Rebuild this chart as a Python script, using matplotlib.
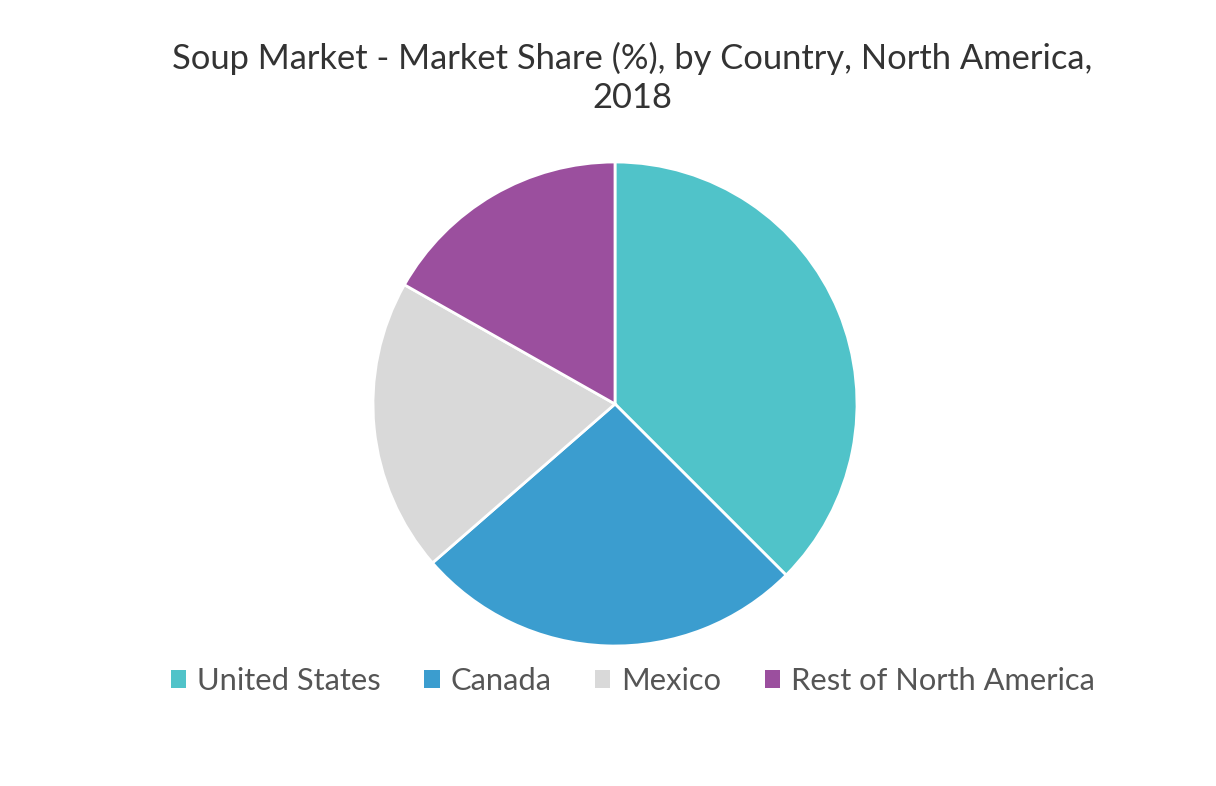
import matplotlib
matplotlib.use("Agg")
import matplotlib.pyplot as plt
from matplotlib.patches import Patch

categories = ["United States", "Canada", "Mexico", "Rest of North America"]
values = [37.5, 26.1, 19.6, 16.8]
colors = ["#50C3C9", "#3B9DCF", "#D9D9D9", "#9B4F9E"]
title = "Soup Market - Market Share (%), by Country, North America,\n2018"

plt.rcParams['font.family'] = ['Lato', 'DejaVu Sans']
fig = plt.figure(figsize=(12.16, 7.86), dpi=100)
ax = fig.add_axes([0, 0, 1, 1])
ax.set_xlim(0, 1216)
ax.set_ylim(786, 0)
ax.axis('off')

R = 242
pax = fig.add_axes([(615 - R) / 1216, 1 - (404 + R) / 786, 2 * R / 1216, 2 * R / 786])
pax.pie(values, colors=colors, startangle=90, counterclock=False,
        wedgeprops=dict(edgecolor='white', linewidth=2))
pax.set_xlim(-1, 1)
pax.set_ylim(-1, 1)
pax.set_aspect('equal')

fig.text(632 / 1216, 1 - 78 / 786, title, ha='center', va='center',
         fontsize=24.8, color='#333333', linespacing=1.3)

handles = [Patch(facecolor=c, edgecolor='none') for c in colors]
fig.legend(handles, categories, loc='center', bbox_to_anchor=(633 / 1216, 1 - 681 / 786),
           ncol=4, frameon=False, fontsize=22.2, labelcolor='#555555',
           handlelength=0.5, handleheight=0.5, handletextpad=0.36, columnspacing=1.4)

fig.savefig("out.png", dpi=100, facecolor='white')
